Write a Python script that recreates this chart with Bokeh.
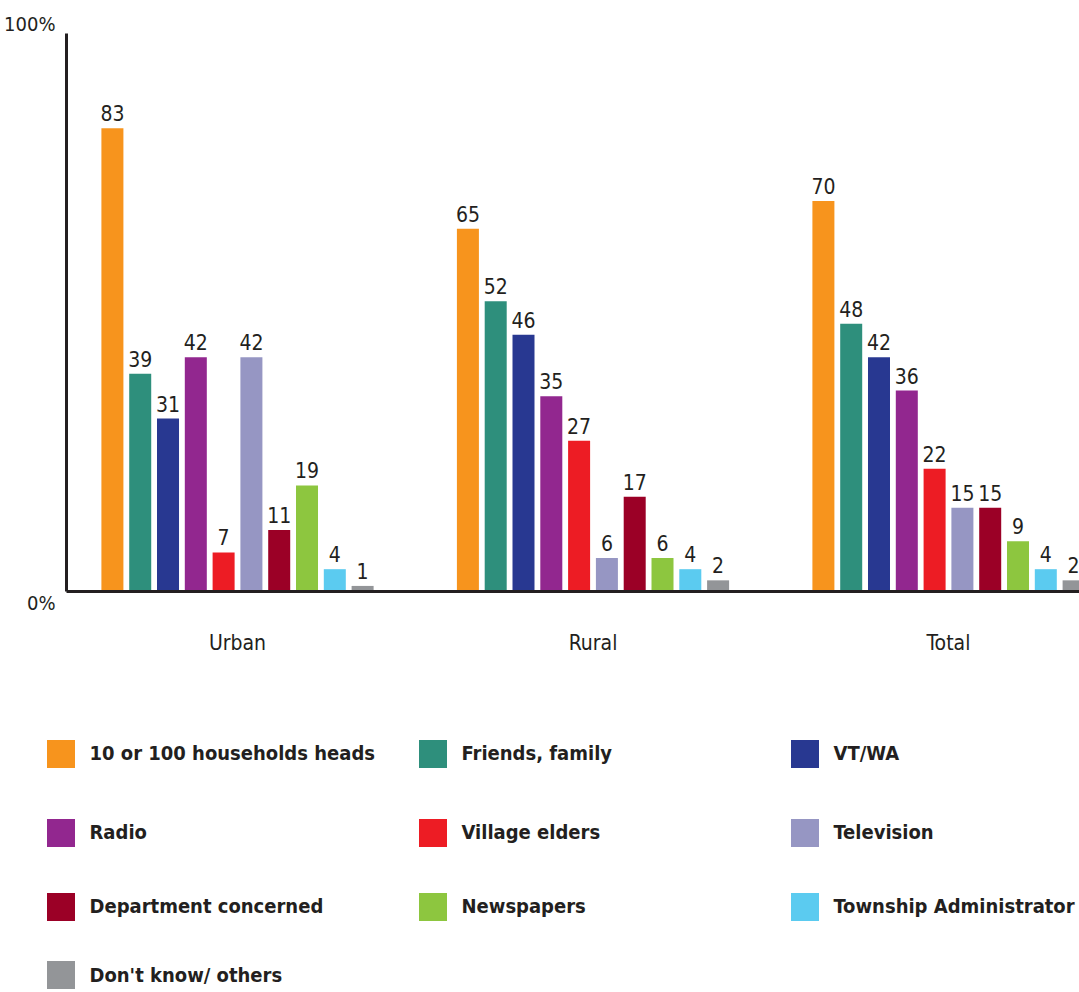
from bokeh.plotting import figure
from bokeh.models import Range1d, LinearAxis, FixedTicker, ColumnDataSource, Legend, LegendItem
from bokeh.transform import dodge
from bokeh.core.properties import value
from bokeh.embed import file_html
from bokeh.resources import INLINE

# --- data -------------------------------------------------------------
groups = ["Urban", "Rural", "Total"]
series = [
    "10 or 100 households heads",
    "Friends, family",
    "VT/WA",
    "Radio",
    "Village elders",
    "Television",
    "Department concerned",
    "Newspapers",
    "Township Administrator",
    "Don't know/ others",
]
colors = [
    "#F7941D", "#2E8F7C", "#283891", "#92278F", "#ED1C24",
    "#9696C3", "#9B0026", "#8DC63F", "#5BCBF0", "#939598",
]
urban = [83, 39, 31, 42, 7, 42, 11, 19, 4, 1]
rural = [65, 52, 46, 35, 27, 6, 17, 6, 4, 2]
total = [70, 48, 42, 36, 22, 15, 15, 9, 4, 2]
y_ticks = [0, 100]

# --- style ------------------------------------------------------------
FONT = "DejaVu Sans Condensed, Roboto"
INK = "#231f20"
# the plotting area fills the whole page; the chart body sits in its upper
# part and the legend underneath
X_START, X_END = -0.6667, 2.3685
Y_START, Y_END = -71.86, 105.91
Y_AXIS_AT = -0.481          # x position of the vertical axis line
STEP = 0.0782               # distance between neighbouring bars inside a group
BAR_W = 0.0619

p = figure(
    width=1079, height=992,
    x_range=Range1d(X_START, X_END), y_range=Range1d(Y_START, Y_END),
    x_axis_type=None, y_axis_type=None,
    min_border=0,
    toolbar_location=None, output_backend="svg",
    outline_line_color=None,
    background_fill_color="white", border_fill_color="white",
)

group_x = list(range(len(groups)))
renderers = []
for i, (name, color) in enumerate(zip(series, colors)):
    vals = [urban[i], rural[i], total[i]]
    src = ColumnDataSource(dict(x=group_x, top=vals, label=[str(v) for v in vals]))
    off = (i - (len(series) - 1) / 2) * STEP
    r = p.vbar(x=dodge("x", off), top="top", bottom=0, width=BAR_W,
               source=src, fill_color=color, line_color=None)
    p.text(x=dodge("x", off), y="top", text="label", source=src,
           text_align="center", text_baseline="bottom", y_offset=-7,
           text_font=value(FONT), text_font_size="21px", text_color=INK)
    renderers.append(r)

# --- axes: plain lines through the origin -------------------------------
axis_style = dict(
    axis_line_width=3, axis_line_color=INK,
    major_tick_out=0, major_tick_in=0, minor_tick_out=0, minor_tick_in=0,
    major_tick_line_color=None, minor_tick_line_color=None,
    major_label_standoff=0, major_label_text_font_size="0px",
    ticker=FixedTicker(ticks=[]),
)
xaxis = LinearAxis(fixed_location=0, bounds=(Y_AXIS_AT, X_END), **axis_style)
p.add_layout(xaxis, "below")
yaxis = LinearAxis(fixed_location=Y_AXIS_AT, bounds=(0, 100), **axis_style)
p.add_layout(yaxis, "left")

# category names under the baseline
cat_src = ColumnDataSource(dict(x=group_x, y=[0] * len(groups), name=groups))
p.text(x="x", y="y", text="name", source=cat_src,
       text_align="center", text_baseline="middle", y_offset=51,
       text_font=value(FONT), text_font_size="21px", text_color=INK)

# percentage marks at both ends of the vertical axis
tick_src = ColumnDataSource(dict(
    x=[Y_AXIS_AT] * len(y_ticks), y=y_ticks,
    label=[f"{t}%" for t in y_ticks],
    dy=[-9 if t == max(y_ticks) else 11 for t in y_ticks],
))
p.text(x="x", y="y", text="label", source=tick_src,
       text_align="right", text_baseline="middle", x_offset=-11, y_offset="dy",
       text_font=value(FONT), text_font_size="20px", text_color=INK)

# --- legend: three entries per row -------------------------------------
rows = [[0, 1, 2], [3, 4, 5], [6, 7, 8], [9]]
row_y = [221.5, 142.5, 68.5, 0]
for idx, ly in zip(rows, row_y):
    lg = Legend(
        items=[LegendItem(label=series[k], renderers=[renderers[k]]) for k in idx],
        location=(42.5, ly), orientation="horizontal",
        glyph_width=35, glyph_height=35,
        label_standoff=12, label_width=325, spacing=0,
        padding=0, margin=0,
        border_line_color=None, background_fill_alpha=0,
        label_text_font=FONT, label_text_font_style="bold",
        label_text_font_size="20px", label_text_color=INK,
    )
    p.add_layout(lg, "center")

open("out.html", "w").write(file_html(p, INLINE))
